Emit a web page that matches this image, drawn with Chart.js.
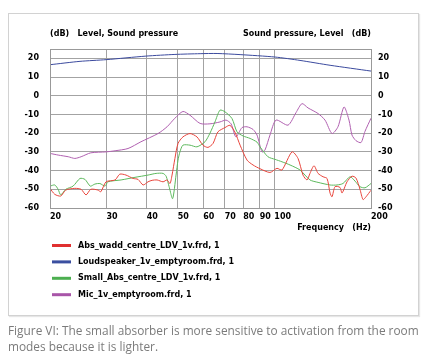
<!DOCTYPE html>
<html>
<head>
<meta charset="utf-8">
<script src="https://cdn.jsdelivr.net/npm/chart.js@4.4.0/dist/chart.umd.min.js"></script>
<style>
html, body { margin: 0; padding: 0; background: #fff; }
body { width: 437px; height: 362px; position: relative; overflow: hidden; }
#box { position: absolute; left: 8px; top: 13px; width: 409px; height: 301px; border: 1px solid #d2d2d2; box-shadow: 1px 1px 1px #e6e6e6; }
#wrap { position: absolute; left: 0; top: 0; width: 437px; height: 362px; }
#cap { position: absolute; left: 8px; top: 322px; width: 428px; font: 11.85px "Open Sans", sans-serif; color: #7b7b7b; line-height: 16px; }
</style>
</head>
<body>
<div id="box"></div>
<div id="wrap"><canvas id="c"></canvas></div>
<div id="cap">Figure VI: The small absorber is more sensitive to activation from the room modes because it is lighter.</div>
<script>
// tick labels
var xTicks = [20, 30, 40, 50, 60, 70, 80, 90, 100, 200];
var yTicks = [20, 10, 0, -10, -20, -30, -40, -50, -60];

// Abs_wadd_centre_LDV_1v.frd
var absFreq = [20, 20.7, 21.6, 22.4, 23.9, 25.0, 25.9, 26.8, 28.2, 28.8, 29.9, 31.9, 33.0, 34.5, 36.3, 37.6, 39.0, 40.4, 41.6, 43.1,
    45.0, 46.3, 47.3, 48.0, 49.0, 50.1, 51.9, 54.6, 57.4, 59.9, 62.1, 64.4, 66.7, 70.2, 72.7, 75.4, 78.2, 82.2, 85.8, 90.2,
    96.9, 101.9, 105.6, 113.5, 118.5, 122.8, 126.4, 129.1, 132.9, 136.8, 141.8, 145.9, 149.1, 151.2, 154.5, 160.1, 162.5, 168.4, 174.5, 179.6,
    184.8, 188.9, 193.0, 200];
var absLevel = [-49.5, -52.7, -53.6, -50.4, -49.5, -50, -53, -50, -50.4, -51.3, -46, -45, -41.9, -42.4, -44.2, -44.7, -47.7, -46, -45.2, -45,
    -46, -45, -46.9, -42.4, -33.5, -25.5, -22, -20.2, -22, -26.4, -27.6, -25.5, -19.3, -17, -15.8, -19.5, -26.4, -34.4, -37, -39,
    -41, -38.8, -39.7, -30, -33.5, -42.4, -45, -41.5, -37.4, -41.5, -43.3, -44.2, -52, -54, -48.6, -49, -52, -46, -43, -44,
    -50, -55.5, -54, -50.5];

// Loudspeaker_1v_emptyroom.frd
var spkFreq = [20, 24.8, 29.9, 39.8, 49.0, 58.7, 66.3, 78.2, 100.5, 120.2, 149.1, 200];
var spkLevel = [16.6, 18.4, 19.3, 21.2, 22.1, 22.5, 22.6, 22, 20.7, 18.9, 16.3, 13.2];

// Small_Abs_centre_LDV_1v.frd
var smallFreq = [20, 20.7, 21.2, 21.6, 22.4, 23.6, 24.8, 25.7, 26.7, 27.6, 28.6, 29.7, 30.3, 33.3, 36.8, 40.4, 42.8, 45.0, 46.0, 47.0,
    48.2, 49.4, 50.1, 50.8, 51.9, 54.6, 57.4, 60.8, 63.0, 65.3, 67.7, 70.2, 73.8, 76.5, 79.9, 84.0, 88.3, 90.2, 95.5, 100.5,
    105.6, 111.9, 120.2, 129.1, 136.8, 149.1, 156.7, 163.6, 172.1, 178.3, 184.8, 191.6, 200];
var smallLevel = [-48.3, -47.7, -50, -53, -50, -48.3, -44.2, -44.7, -48.3, -47.2, -46.9, -48.3, -46, -45, -43.6, -42.4, -41.5, -41.5, -43, -48.6,
    -55, -42.4, -34.4, -30, -26.4, -26.4, -27.3, -24.6, -20, -14, -7.7, -8.6, -12.2, -19.3, -21.5, -22.8, -24.8, -27.3, -32.6, -34,
    -35.3, -37, -39.7, -45, -46.3, -47.7, -47.7, -46.9, -43.3, -45.6, -48.6, -49.2, -46.9];

// Mic_1v_emptyroom.frd
var micFreq = [20, 21.2, 22.8, 23.9, 25.0, 26.8, 29.9, 31.9, 35.0, 38.4, 43.4, 46.3, 49.0, 51.9, 54.6, 58.7, 63.0, 67.7, 70.7, 73.3,
    75.9, 79.3, 82.2, 85.8, 88.3, 91.5, 93.5, 96.9, 101.2, 110.3, 116.8, 121.9, 127.3, 136.8, 143.8, 151.2, 157.8, 164.8, 170.8, 174.5,
    179.6, 186.2, 191.6, 200];
var micLevel = [-30.8, -31.7, -32.6, -33.5, -32.6, -30.5, -30, -29.4, -28.2, -24.6, -20.2, -16.6, -12, -8.4, -10.4, -14.8, -15, -14, -13, -15,
    -22, -17, -16.6, -18, -21, -30, -29, -21, -13, -15.7, -9, -4.2, -6.5, -9.5, -13, -20.2, -16.6, -6, -13, -21,
    -24, -25, -19, -12];

function pts(xs, ys) {
    return xs.map(function(x, i) { return {x: x, y: ys[i]}; });
}

var FONT = 'bold 8px "DejaVu Sans"';
var tickFont = {family: 'DejaVu Sans', size: 8, weight: 'bold'};

var decor = {
    id: 'decor',
    afterDraw: function(chart) {
        var ctx = chart.ctx, a = chart.chartArea;
        ctx.save();
        ctx.strokeStyle = '#999';
        ctx.lineWidth = 1;
        ctx.strokeRect(Math.round(a.left) + 0.5, Math.round(a.top) + 0.5, Math.round(a.right - a.left), Math.round(a.bottom - a.top));
        ctx.font = FONT;
        ctx.fillStyle = '#000';
        ctx.textBaseline = 'middle';
        ctx.textAlign = 'left';
        ctx.fillText('(dB)   Level, Sound pressure', a.left, a.top - 15);
        ctx.textAlign = 'right';
        ctx.fillText('Sound pressure, Level   (dB)', a.right, a.top - 15);
        ctx.fillText('Frequency   (Hz)', a.right, a.bottom + 20);
        chart.data.datasets.forEach(function(ds, i) {
            var y = 245.5 + i * 16.4;
            ctx.fillStyle = ds.legendColor;
            ctx.fillRect(52, y - 1.5, 19, 3);
            ctx.fillStyle = '#000';
            ctx.textAlign = 'left';
            ctx.fillText(ds.label, 78, y);
        });
        ctx.restore();
    }
};

new Chart(document.getElementById('c').getContext('2d'), {
    type: 'line',
    data: {
        datasets: [{
            label: 'Abs_wadd_centre_LDV_1v.frd, 1',
            data: pts(absFreq, absLevel),
            borderColor: '#e8453c',
            legendColor: '#e03030',
            yAxisID: 'y'
        }, {
            label: 'Loudspeaker_1v_emptyroom.frd, 1',
            data: pts(spkFreq, spkLevel),
            borderColor: '#3b4a9e',
            legendColor: '#3b4fa0',
            yAxisID: 'y'
        }, {
            label: 'Small_Abs_centre_LDV_1v.frd, 1',
            data: pts(smallFreq, smallLevel),
            borderColor: '#5cb85c',
            legendColor: '#4caf50',
            yAxisID: 'y'
        }, {
            label: 'Mic_1v_emptyroom.frd, 1',
            data: pts(micFreq, micLevel),
            borderColor: '#b060b0',
            legendColor: '#a855a8',
            yAxisID: 'y'
        }]
    },
    options: {
        responsive: true,
        maintainAspectRatio: false,
        animation: false,
        layout: {padding: {top: 49, left: 0, right: 0, bottom: 0}},
        elements: {
            line: {borderWidth: 1, tension: 0.25},
            point: {radius: 0}
        },
        plugins: {legend: {display: false}, tooltip: {enabled: false}},
        scales: {
            x: {
                type: 'logarithmic',
                min: 20,
                max: 200,
                afterFit: function(s) { s.height = 154; },
                afterBuildTicks: function(s) { s.ticks = xTicks.map(function(v) { return {value: v}; }); },
                ticks: {
                    align: 'start', padding: 4, autoSkip: false, maxRotation: 0, color: '#000', font: tickFont,
                    callback: function(v) { return String(v); }
                },
                grid: {color: '#a3a3a3', drawTicks: false},
                border: {display: false}
            },
            y: {
                position: 'left',
                min: -60,
                max: 25,
                afterFit: function(s) { s.width = 50; },
                afterBuildTicks: function(s) { s.ticks = yTicks.map(function(v) { return {value: v}; }); },
                ticks: {padding: 11, color: '#000', font: tickFont},
                grid: {color: '#a3a3a3', drawTicks: false},
                border: {display: false}
            },
            y2: {
                position: 'right',
                min: -60,
                max: 25,
                afterFit: function(s) { s.width = 66; },
                afterBuildTicks: function(s) { s.ticks = yTicks.map(function(v) { return {value: v}; }); },
                ticks: {padding: 7, color: '#000', font: tickFont},
                grid: {drawOnChartArea: false, drawTicks: false},
                border: {display: false}
            }
        }
    },
    plugins: [decor]
});
</script>
</body>
</html>
